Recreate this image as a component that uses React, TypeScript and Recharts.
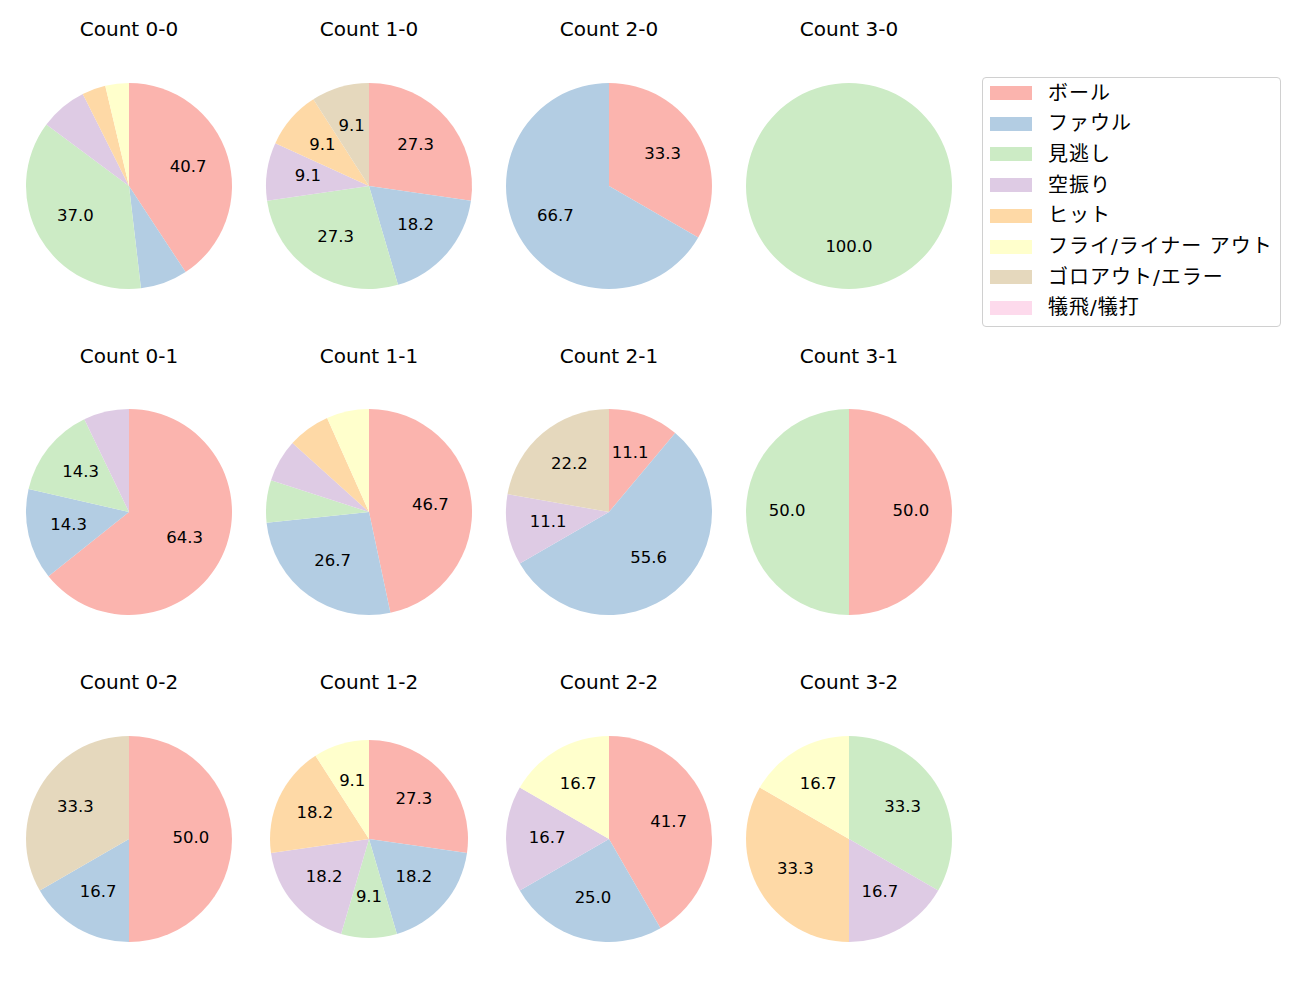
import React from "react";
import { PieChart, Pie, Cell } from "recharts";

const categories = ["ボール", "ファウル", "見逃し", "空振り", "ヒット", "フライ/ライナー アウト", "ゴロアウト/エラー", "犠飛/犠打"];
const colors = ["#fbb4ae", "#b3cde3", "#ccebc5", "#decbe4", "#fed9a6", "#ffffcc", "#e5d8bd", "#fddaec"];

const countLabels = ["0-0", "1-0", "2-0", "3-0", "0-1", "1-1", "2-1", "3-1", "0-2", "1-2", "2-2", "3-2"];

const count00 = [11, 2, 10, 2, 1, 1, 0, 0];
const count10 = [3, 2, 3, 1, 1, 0, 1, 0];
const count20 = [1, 2, 0, 0, 0, 0, 0, 0];
const count30 = [0, 0, 1, 0, 0, 0, 0, 0];
const count01 = [9, 2, 2, 1, 0, 0, 0, 0];
const count11 = [7, 4, 1, 1, 1, 1, 0, 0];
const count21 = [1, 5, 0, 1, 0, 0, 2, 0];
const count31 = [1, 0, 1, 0, 0, 0, 0, 0];
const count02 = [3, 1, 0, 0, 0, 0, 2, 0];
const count12 = [3, 2, 1, 2, 2, 1, 0, 0];
const count22 = [5, 3, 0, 2, 0, 2, 0, 0];
const count32 = [0, 0, 2, 1, 2, 1, 0, 0];

const allCounts = [count00, count10, count20, count30, count01, count11, count21, count31, count02, count12, count22, count32];

const FONT = '"DejaVu Sans", "Noto Sans CJK JP", sans-serif';
const RAD = Math.PI / 180;

const colX = [129, 369, 609, 849];
const rowY = [185.5, 511.5, 838.5];
const titleY = [28.5, 355.5, 682];
const radii = [103, 103, 103, 103, 103, 103, 103, 103, 103, 99, 103, 103];

const renderLabel = (props: any) => {
  const { cx, cy, midAngle, outerRadius, percent } = props;
  if (percent * 100 < 8) return null;
  const r = outerRadius * 0.6;
  const x = cx + r * Math.cos(-midAngle * RAD);
  const y = cy + r * Math.sin(-midAngle * RAD) - 1.5;
  return (
    <text x={x} y={y} textAnchor="middle" dominantBaseline="central" fill="#000" fontSize={16.5} fontFamily={FONT}>
      {(percent * 100).toFixed(1)}
    </text>
  );
};

const SIZE = 240;

export default function App() {
  return (
    <div style={{ position: "absolute", left: 0, top: 0, width: 1300, height: 1000, background: "#fff", fontFamily: FONT }}>
      {allCounts.map((vals, i) => {
        const col = i % 4;
        const row = Math.floor(i / 4);
        const data = vals
          .map((v, k) => ({ name: categories[k], value: v, color: colors[k] }))
          .filter((d) => d.value > 0);
        return (
          <React.Fragment key={i}>
            <div
              style={{
                position: "absolute",
                left: colX[col] - 100,
                width: 200,
                top: titleY[row] - 12,
                height: 24,
                lineHeight: "24px",
                textAlign: "center",
                fontSize: 20,
                color: "#000",
                whiteSpace: "nowrap",
              }}
            >
              {"Count " + countLabels[i]}
            </div>
            <div style={{ position: "absolute", left: colX[col] - SIZE / 2, top: rowY[row] - SIZE / 2 }}>
              <PieChart width={SIZE} height={SIZE} margin={{ top: 0, right: 0, bottom: 0, left: 0 }}>
                <Pie
                  data={data}
                  dataKey="value"
                  nameKey="name"
                  cx={SIZE / 2}
                  cy={SIZE / 2}
                  outerRadius={radii[i]}
                  innerRadius={0}
                  startAngle={90}
                  endAngle={-270}
                  stroke="none"
                  label={renderLabel}
                  labelLine={false}
                  isAnimationActive={false}
                >
                  {data.map((d, k) => (
                    <Cell key={k} fill={d.color} stroke="none" />
                  ))}
                </Pie>
              </PieChart>
            </div>
          </React.Fragment>
        );
      })}
      <div
        style={{
          position: "absolute",
          left: 982,
          top: 77,
          width: 299,
          height: 250,
          border: "1px solid #d0d0d0",
          borderRadius: 4,
          background: "#fff",
          boxSizing: "border-box",
        }}
      >
        {categories.map((c, k) => (
          <div key={k} style={{ position: "absolute", left: 0, top: 14.5 + k * 30.7 - 12, height: 24, width: 296 }}>
            <div style={{ position: "absolute", left: 7, top: 5.5, width: 42, height: 14, background: colors[k] }} />
            <div style={{ position: "absolute", left: 65, top: 0, height: 24, lineHeight: "24px", fontSize: 20, letterSpacing: 1, color: "#000", whiteSpace: "nowrap" }}>
              {c}
            </div>
          </div>
        ))}
      </div>
    </div>
  );
}
